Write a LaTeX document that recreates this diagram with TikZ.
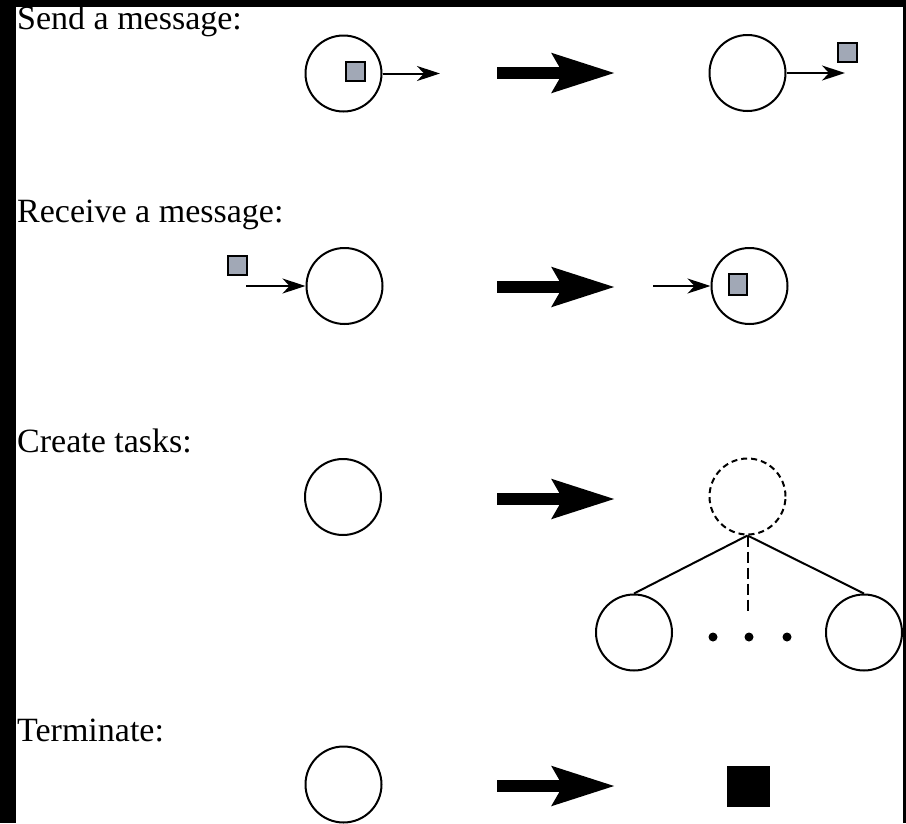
\documentclass[tikz,border=0pt]{standalone}
\usepackage{fontspec}
\setmainfont{Liberation Serif}
\usetikzlibrary{arrows.meta}
\definecolor{msggrey}{RGB}{161,168,182}
\begin{document}
\begin{tikzpicture}[x=1pt,y=-1pt,
  lbl/.style={anchor=base west,inner sep=0pt,font=\fontsize{34}{40}\selectfont},
  task/.style={circle,draw,line width=2pt,minimum size=76pt,inner sep=0pt},
  dtask/.style={task,dash pattern=on 6pt off 4pt},
  msg/.style={draw,line width=2pt,fill=msggrey,minimum width=19pt,minimum height=19pt,inner sep=0pt},
  dot/.style={circle,fill,minimum size=9pt,inner sep=0pt},
  thin/.style={line width=2pt,-{Stealth[length=23pt,width=15pt,inset=7pt]}},
  big/.style={line width=12pt,line cap=butt,-{Stealth[length=62pt,width=38pt,inset=10pt]}},
  link/.style={line width=2pt}]
% frame
\fill[black] (0,0) rectangle (906,823);
\fill[white] (16,7) rectangle (903,823);
\useasboundingbox (0,0) rectangle (906,823);
% labels
\node[lbl] (t1) at (17,29) {Send a message:};
\node[lbl] (t2) at (17,222) {Receive a message:};
\node[lbl] (t3) at (17,452) {Create tasks:};
\node[lbl] (t4) at (17,741) {Terminate:};
% row 1: send
\node[task] (s1) at (343.5,73.5) {};
\node[msg] (sm1) at (355,71.5) {};
\coordinate (s1e) at (440,73.5);
\draw[thin] (s1.east) -- (s1e);
\coordinate (b1s) at (497,73);
\coordinate (b1e) at (615,73);
\draw[big] (b1s) -- (b1e);
\node[task] (s2) at (747.5,73) {};
\coordinate (s2e) at (845,73);
\draw[thin] (s2.east) -- (s2e);
\node[msg] (sm2) at (847.5,52.5) {};
% row 2: receive
\node[task] (r1) at (344.5,286) {};
\node[msg] (rm1) at (237.5,265.5) {};
\coordinate (r1s) at (246,286);
\draw[thin] (r1s) -- (r1.west);
\coordinate (b2s) at (497,287);
\coordinate (b2e) at (615,287);
\draw[big] (b2s) -- (b2e);
\node[task] (r2) at (749.5,286) {};
\coordinate (r2s) at (653,286);
\draw[thin] (r2s) -- (r2.west);
\node[msg,minimum height=21pt,minimum width=18pt] (rm2) at (738,284.5) {};
% row 3: create tasks
\node[task] (c1) at (343,497) {};
\coordinate (b3s) at (497,499);
\coordinate (b3e) at (615,499);
\draw[big] (b3s) -- (b3e);
\node[dtask] (c2) at (747.5,496.5) {};
\node[task] (c3) at (634,632.5) {};
\node[task] (c4) at (864,632.5) {};
\draw[link] (c2.south) -- (c3.north);
\draw[link] (c2.south) -- (c4.north);
\coordinate (c2d) at (747.5,615);
\draw[link,dash pattern=on 11pt off 5pt] (c2.south) -- (c2d);
\node[dot] (d1) at (713,637) {};
\node[dot] (d2) at (749,637) {};
\node[dot] (d3) at (787,637) {};
% row 4: terminate
\node[task] (e1) at (343.5,784.5) {};
\coordinate (b4s) at (497,786);
\coordinate (b4e) at (615,786);
\draw[big] (b4s) -- (b4e);
\node[fill=black,minimum width=43pt,minimum height=41pt,inner sep=0pt] (e2) at (748.5,786.5) {};
\end{tikzpicture}
\end{document}
